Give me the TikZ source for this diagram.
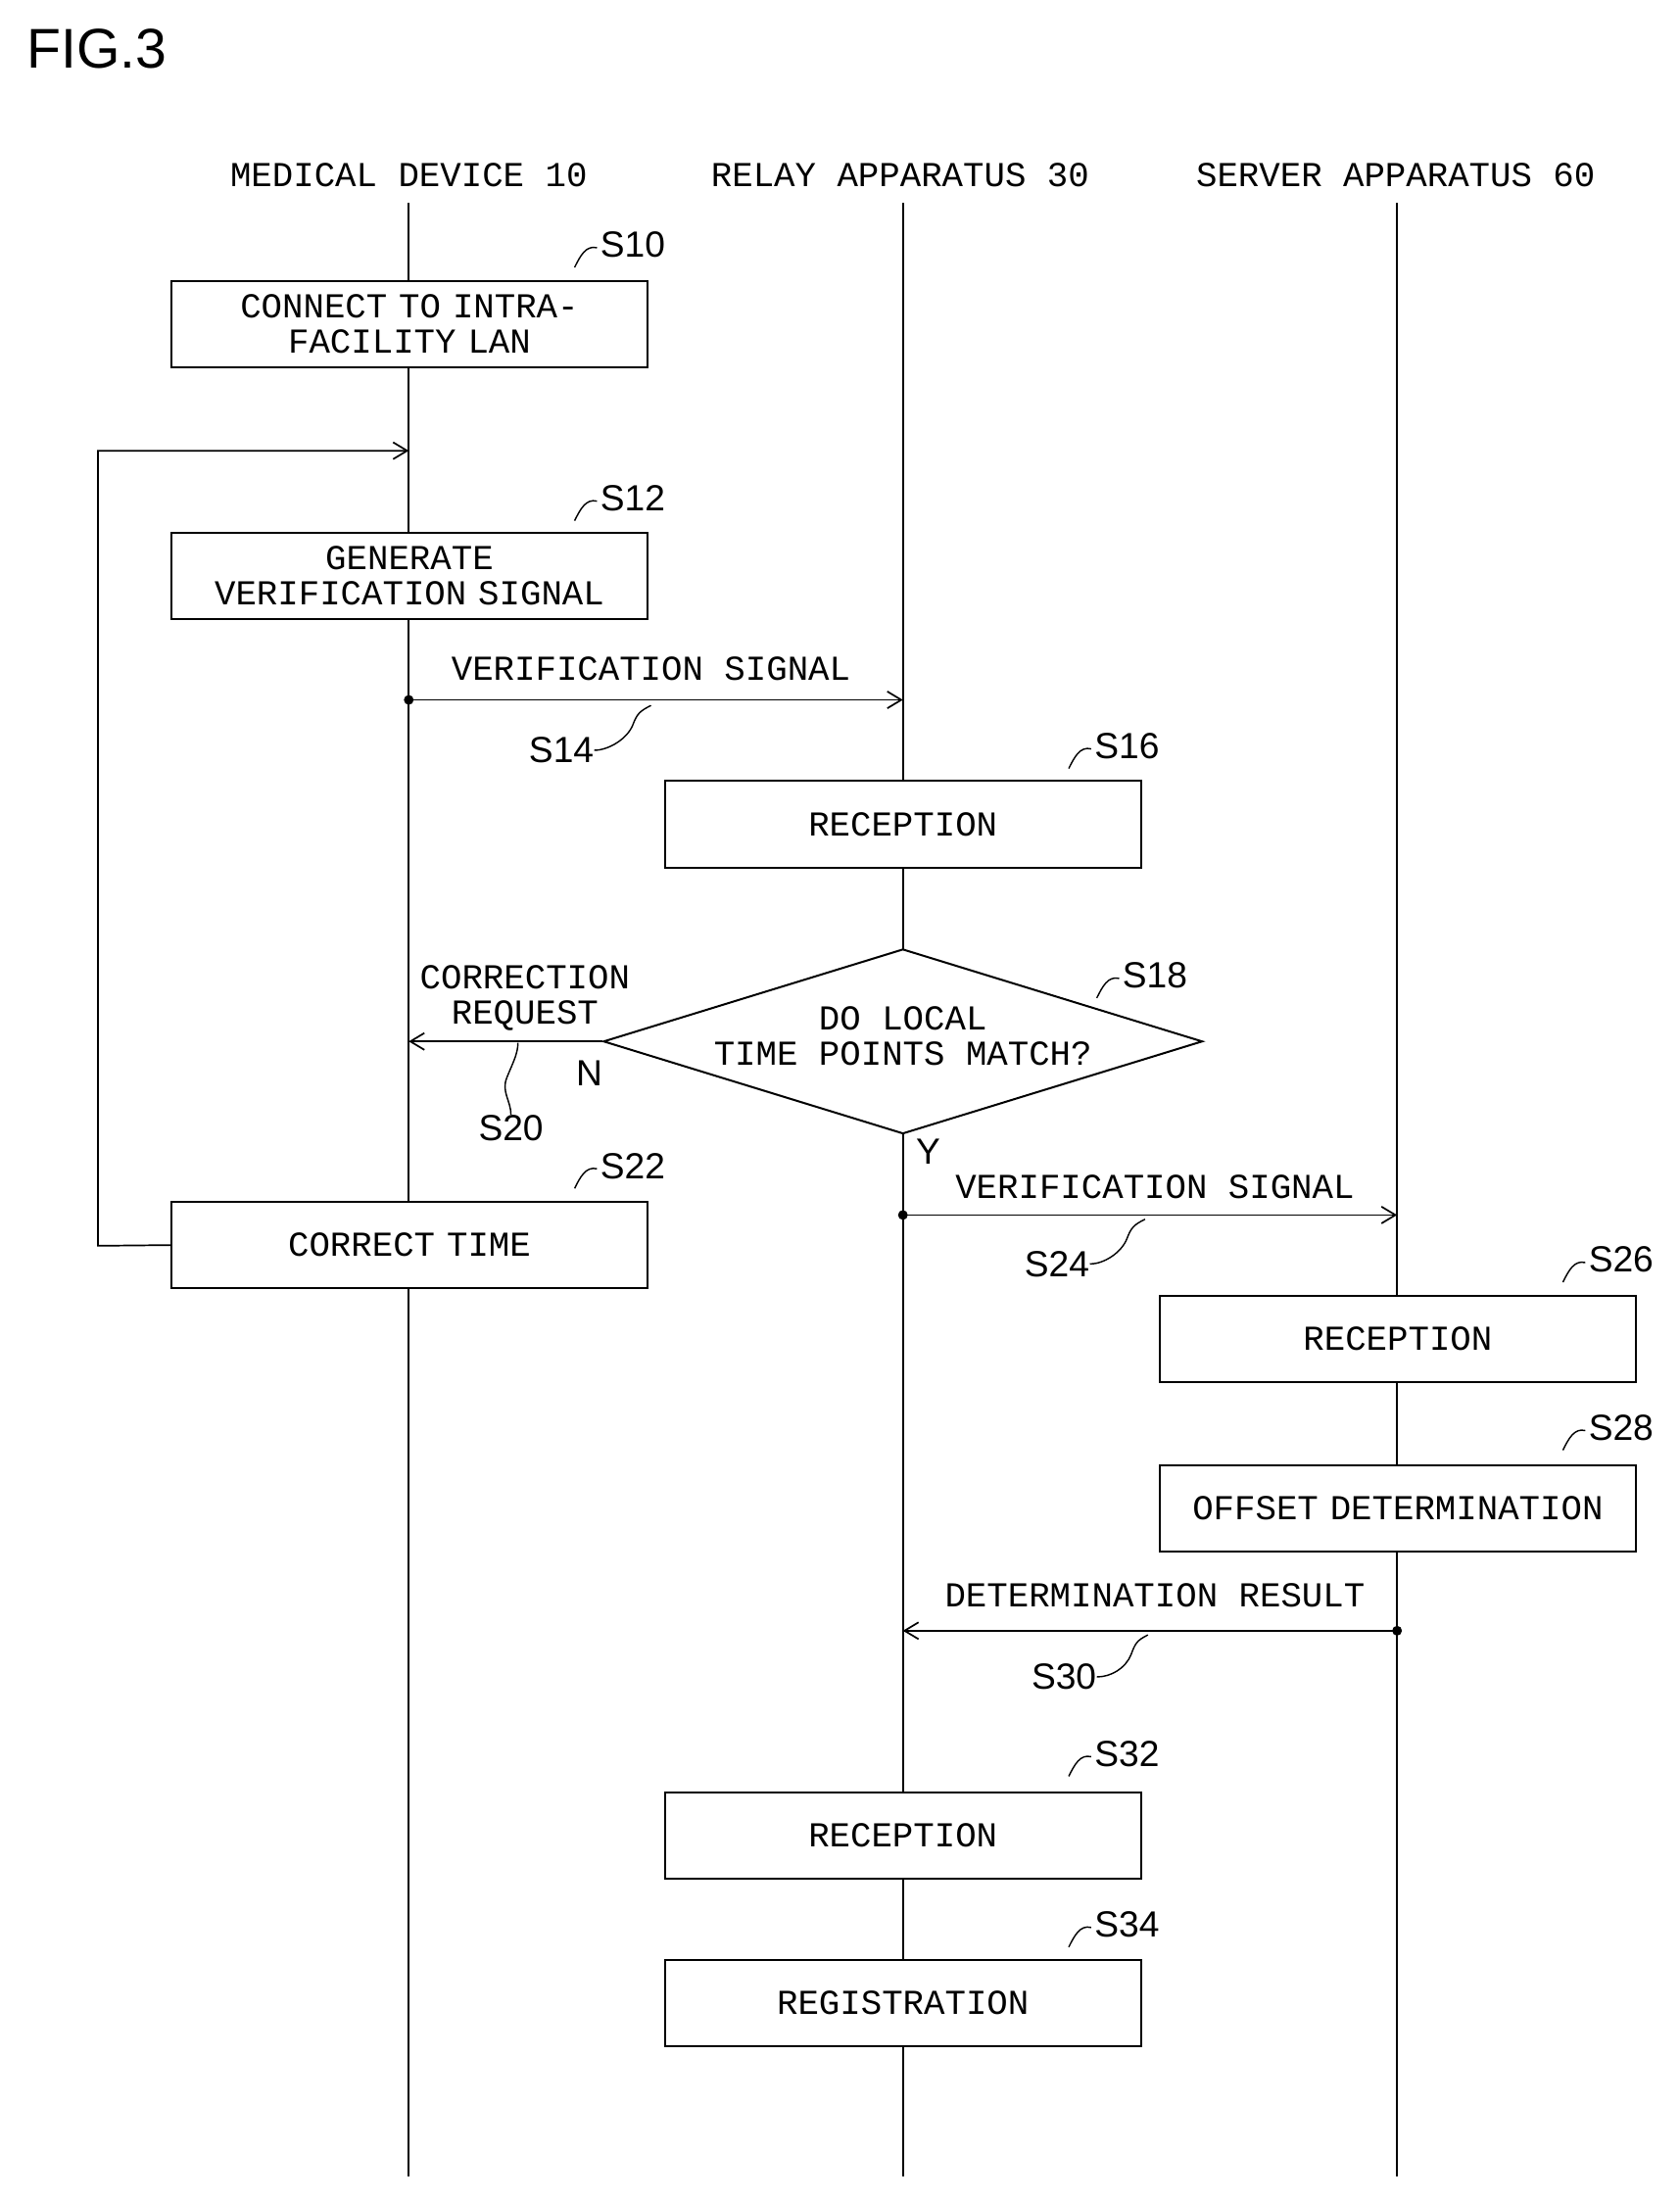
\documentclass[tikz,border=0pt]{standalone}
\usepackage{fontspec}
\setmainfont{Liberation Sans}
\newfontfamily\monof{Liberation Mono}
\usetikzlibrary{shapes.geometric,arrows.meta,calc}
\begin{document}
\begin{tikzpicture}[x=0.5pt,y=-0.5pt,
  lbl/.style={font=\monof\fontsize{12.5}{12.5}\selectfont,inner sep=0pt,align=center},
  box/.style={draw,line width=0.7pt,lbl},
  stp/.style={font=\fontsize{13}{13}\selectfont,inner sep=0pt},
  life/.style={line width=0.6pt},
  msg/.style={line width=0.6pt,-{Straight Barb[length=5pt,width=6pt]}},
  sq/.style={line width=0.5pt}]
\useasboundingbox (0,0) rectangle (1200,1571);
\node[anchor=west,font=\fontsize{20}{20}\selectfont] (fig) at (12,35) {FIG.3};
\node[lbl] (h1) at (292,125) {MEDICAL DEVICE 10};
\node[lbl] (h2) at (643,125) {RELAY APPARATUS 30};
\node[lbl] (h3) at (997,125) {SERVER APPARATUS 60};
\coordinate (t1) at (292,145); \coordinate (b1) at (292,1555);
\coordinate (t2) at (645,145); \coordinate (b2) at (645,1555);
\coordinate (t3) at (998,145); \coordinate (b3) at (998,1555);
\draw[life] (t1)--(b1); \draw[life] (t2)--(b2); \draw[life] (t3)--(b3);
% boxes
\node[box,fill=white,text width=170pt,minimum height=31pt] (s10) at (292.5,231.5) {CONNECT TO INTRA-\\FACILITY LAN};
\node[box,fill=white,text width=170pt,minimum height=31pt] (s12) at (292.5,411.5) {GENERATE\\VERIFICATION SIGNAL};
\node[box,fill=white,text width=170pt,minimum height=31pt] (s16) at (645,589) {RECEPTION};
\node[draw,line width=0.7pt,fill=white,diamond,aspect=3.24,minimum width=214pt,minimum height=66pt,inner sep=0pt] (s18) at (645,744) {};
\node[lbl] (s18t) at (645,740) {DO LOCAL\\TIME POINTS MATCH?};
\node[box,fill=white,text width=170pt,minimum height=31pt] (s22) at (292.5,889.5) {CORRECT TIME};
\node[box,fill=white,text width=170pt,minimum height=31pt] (s26) at (998.5,956.5) {RECEPTION};
\node[box,fill=white,text width=170pt,minimum height=31pt] (s28) at (998.5,1077.5) {OFFSET DETERMINATION};
\node[box,fill=white,text width=170pt,minimum height=31pt] (s32) at (645,1311.5) {RECEPTION};
\node[box,fill=white,text width=170pt,minimum height=31pt] (s34) at (645,1431) {REGISTRATION};
% loop
\coordinate (l1) at (70,890); \coordinate (l2) at (70,322); \coordinate (l3) at (292,322);
\draw[msg] (s22.west) -- (l1) -- (l2) -- (l3);
% messages
\coordinate (m14a) at (292,500); \coordinate (m14b) at (645,500);
\draw[msg] (m14a) -- (m14b); \fill (m14a) circle (3.5);
\node[lbl] (m14t) at (465,478) {VERIFICATION SIGNAL};
\coordinate (m20) at (292,744);
\draw[msg] (s18.west) -- (m20);
\node[lbl] (m20t) at (375,713) {CORRECTION\\REQUEST};
\node[stp] (n) at (421,767) {N};
\node[stp] (y) at (663,823) {Y};
\coordinate (m24a) at (645,868); \coordinate (m24b) at (998,868);
\draw[msg] (m24a) -- (m24b); \fill (m24a) circle (3.5);
\node[lbl] (m24t) at (825,848) {VERIFICATION SIGNAL};
\coordinate (m30a) at (998,1165); \coordinate (m30b) at (645,1165);
\draw[msg] (m30a) -- (m30b); \fill (m30a) circle (3.5);
\node[lbl] (m30t) at (825,1140) {DETERMINATION RESULT};
% step labels with squiggles
\foreach \n/\x/\y in {S10/452/175,S12/452/356,S16/805/533,S18/825/697,S22/452/833,S26/1158/900,S28/1158/1020,S32/805/1253,S34/805/1375}{
  \node[stp] (L\n) at (\x,\y) {\n};
  \draw[sq] ($(L\n.west)+(-2,2)$) .. controls +(-8,-2) and +(4,-8) .. ++(-16,14);
}
\node[stp] (L14) at (401,536) {S14};
\draw[sq] (L14.east) .. controls +(10,0) and +(-4,10) .. (452,518) .. controls +(3,-8) and +(-8,4) .. (465,504);
\node[stp] (L20) at (365,806) {S20};
\draw[sq] (L20.north) .. controls +(0,-10) and +(-4,10) .. (362,770) .. controls +(4,-10) and +(0,8) .. (370,745);
\node[stp] (L24) at (755,903) {S24};
\draw[sq] (L24.east) .. controls +(10,0) and +(-4,10) .. (805,885) .. controls +(3,-8) and +(-8,4) .. (818,871);
\node[stp] (L30) at (760,1198) {S30};
\draw[sq] (L30.east) .. controls +(10,0) and +(-4,10) .. (808,1182) .. controls +(3,-8) and +(-8,4) .. (820,1168);
\end{tikzpicture}
\end{document}
